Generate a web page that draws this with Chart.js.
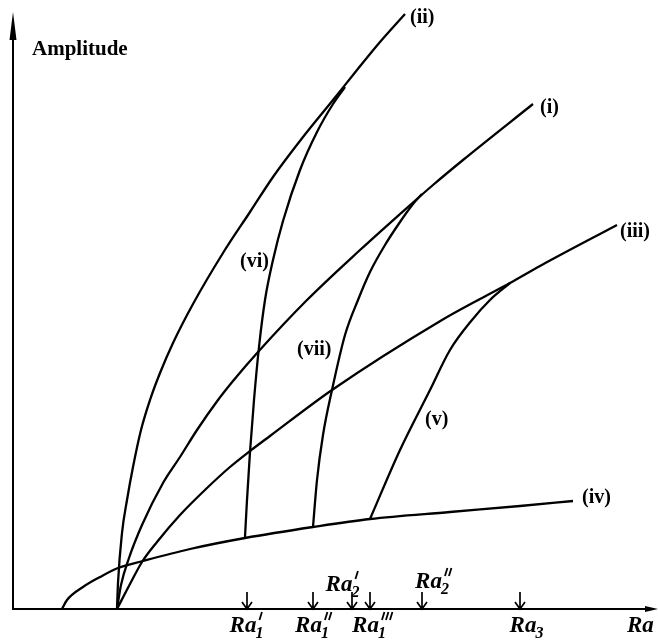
<!DOCTYPE html>
<html>
<head>
<meta charset="utf-8">
<script src="https://cdn.jsdelivr.net/npm/chart.js@4.4.1/dist/chart.umd.min.js"></script>
<style>
    html, body { margin: 0; padding: 0; background: #fff; }
    #wrap { width: 658px; height: 640px; }
</style>
</head>
<body>
<div id="wrap"><canvas id="chart"></canvas></div>
<script>
//
// Data (Ra along x, amplitude along y)
//

const iiRa = [117, 118, 122, 127, 133, 141, 150, 160, 173, 193, 223, 250, 273, 303, 333, 357, 380, 405]
const iiAmp = [0, 26, 76, 109, 142, 179, 209, 236, 266, 305, 356, 397, 432, 472, 509, 539, 567, 595]

const iRa = [117, 121, 129, 142, 163, 180, 197, 218, 233, 258, 307, 360, 400, 433, 463, 533]
const iAmp = [0, 24, 51, 84, 126, 152, 179, 209, 228, 257, 309, 359, 395, 424, 449, 505]

const iiiRa = [117, 130, 142, 157, 180, 207, 230, 250, 270, 332, 442, 480, 510, 540, 617]
const iiiAmp = [0, 25, 47, 67, 94, 121, 142, 158, 173, 219, 289, 310, 326, 343, 384]

const ivRa = [62, 67, 83, 100, 118, 143, 190, 245, 313, 370, 450, 520, 573]
const ivAmp = [0, 9, 22, 32, 41, 48, 60, 71, 82, 90, 97, 103, 108]

const viRa = [245, 247, 250, 254, 259, 265, 273, 283, 300, 317, 333, 345]
const viAmp = [72, 109, 157, 209, 262, 309, 349, 388, 439, 477, 505, 522]

const viiRa = [313, 317, 323, 332, 345, 358, 370, 385, 400, 413, 422]
const viiAmp = [82, 129, 174, 219, 274, 309, 337, 364, 387, 405, 415]

const vRa = [370, 400, 430, 450, 472, 490, 510]
const vAmp = [90, 159, 219, 259, 289, 309, 326]

// marked Rayleigh numbers on the axis (number of primes, subscript)
const tickRa = [247, 313, 352, 370, 422, 520]
const tickPrimes = [1, 2, 1, 3, 2, 0]
const tickSubs = ['1', '1', '2', '1', '2', '3']

const curveNames = ['(ii)', '(i)', '(iii)', '(iv)', '(vi)', '(vii)', '(v)']

//
// Helpers
//

const SERIF = '"Liberation Serif", "DejaVu Serif", serif'

function pts (xs, ys) {
    return xs.map((x, i) => ({ x, y: ys[i] }))
}

function curve (xs, ys) {
    return {
        data: pts(xs, ys),
        showLine: true,
        borderColor: '#000',
        borderWidth: 2.3,
        pointRadius: 0,
        fill: false,
        cubicInterpolationMode: 'monotone',
        clip: false,
    }
}

function drawRa (ctx, cx, base, primes, sub) {
    const big = `italic bold 23px ${SERIF}`
    const small = `italic bold 16px ${SERIF}`
    ctx.font = big
    const w0 = ctx.measureText('Ra').width
    ctx.font = small
    const ws = ctx.measureText(sub).width
    const wp = primes * 4 + 3
    const w = w0 + Math.max(wp, ws)
    const left = cx - w / 2
    ctx.textAlign = 'left'
    ctx.textBaseline = 'alphabetic'
    ctx.font = big
    ctx.fillText('Ra', left, base)
    // primes as short slanted strokes
    ctx.lineWidth = 1.8
    for (let k = 0; k < primes; k++) {
        const px = left + w0 + 3 + k * 4
        ctx.beginPath()
        ctx.moveTo(px + 2.5, base - 20)
        ctx.lineTo(px, base - 12)
        ctx.stroke()
    }
    ctx.font = small
    ctx.fillText(sub, left + w0 - 1, base + 6)
}

//
// Axes, arrows and labels
//

const decor = {
    id: 'decor',
    afterDatasetsDraw (chart) {
        const { ctx, chartArea: a, scales: { x, y } } = chart
        ctx.save()
        ctx.strokeStyle = '#000'
        ctx.fillStyle = '#000'
        ctx.lineWidth = 2

        // y axis with arrow
        ctx.beginPath()
        ctx.moveTo(a.left, a.bottom + 1)
        ctx.lineTo(a.left, 30)
        ctx.stroke()
        ctx.beginPath()
        ctx.moveTo(a.left, 12)
        ctx.lineTo(a.left - 3.5, 40)
        ctx.lineTo(a.left + 3.5, 40)
        ctx.closePath()
        ctx.fill()

        // x axis with arrow
        ctx.beginPath()
        ctx.moveTo(a.left - 1, a.bottom)
        ctx.lineTo(648, a.bottom)
        ctx.stroke()
        ctx.beginPath()
        ctx.moveTo(658, a.bottom)
        ctx.lineTo(645, a.bottom - 3)
        ctx.lineTo(645, a.bottom + 3)
        ctx.closePath()
        ctx.fill()

        // tick arrows
        ctx.lineWidth = 1.7
        for (const v of tickRa) {
            const px = x.getPixelForValue(v)
            ctx.beginPath()
            ctx.moveTo(px, a.bottom - 17)
            ctx.lineTo(px, a.bottom)
            ctx.moveTo(px - 5, a.bottom - 7)
            ctx.lineTo(px, a.bottom)
            ctx.lineTo(px + 5, a.bottom - 7)
            ctx.stroke()
        }

        // tick labels: [baseline offset from axis, horizontal nudge]
        const tickLayout = [[23, 0], [23, 1], [-18, -9], [23, 3], [-21, 12], [23, 7]]
        tickRa.forEach((v, i) => {
            const px = x.getPixelForValue(v)
            const [dy, dx] = tickLayout[i]
            drawRa(ctx, px + dx, a.bottom + dy, tickPrimes[i], tickSubs[i])
        })
        ctx.font = `italic bold 23px ${SERIF}`
        ctx.textAlign = 'left'
        ctx.fillText('Ra', 627, a.bottom + 23)

        // axis title
        ctx.font = `bold 21px ${SERIF}`
        ctx.textBaseline = 'alphabetic'
        ctx.fillText('Amplitude', 32, 55)

        // curve labels, anchored in data units
        const namePos = [[410, 591], [540, 501], [620, 377], [582, 111], [240, 347], [297, 259], [425, 189]]
        ctx.font = `bold 20px ${SERIF}`
        ctx.textBaseline = 'middle'
        curveNames.forEach((name, i) => {
            const [vx, vy] = namePos[i]
            ctx.fillText(name, x.getPixelForValue(vx), y.getPixelForValue(vy))
        })
        ctx.restore()
    },
}

//
// Chart
//

const ctx = document.getElementById('chart').getContext('2d')
new Chart(ctx, {
    type: 'scatter',
    data: {
        datasets: [
            curve(iiRa, iiAmp),
            curve(iRa, iAmp),
            curve(iiiRa, iiiAmp),
            curve(ivRa, ivAmp),
            curve(viRa, viAmp),
            curve(viiRa, viiAmp),
            curve(vRa, vAmp),
        ],
    },
    options: {
        responsive: true,
        maintainAspectRatio: false,
        animation: false,
        layout: { padding: { left: 13, right: 0, top: 12, bottom: 31 } },
        plugins: {
            legend: { display: false },
            tooltip: { enabled: false },
        },
        scales: {
            x: { type: 'linear', min: 13, max: 658, display: false },
            y: { type: 'linear', min: 0, max: 597, display: false },
        },
    },
    plugins: [ decor ],
})
</script>
</body>
</html>
